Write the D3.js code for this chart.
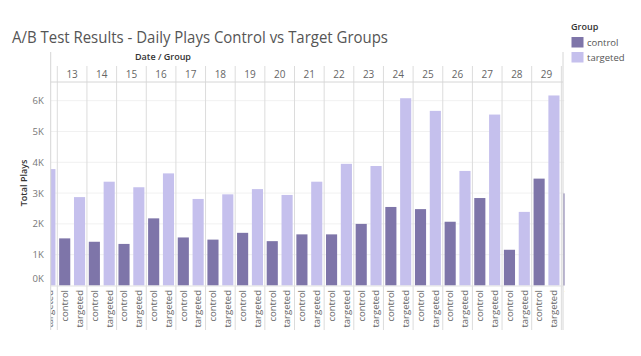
<!DOCTYPE html>
<html>
<head>
<meta charset="utf-8">
<script src="https://cdn.jsdelivr.net/npm/d3@7"></script>
<style>
  html, body { margin: 0; padding: 0; background: #fff; }
  svg { display: block; font-family: "Open Sans", "Lato", sans-serif; }
</style>
</head>
<body>
<svg id="chart" width="641" height="356"></svg>
<script>
// ---- data ----
const days = [12, 13, 14, 15, 16, 17, 18, 19, 20, 21, 22, 23, 24, 25, 26, 27, 28, 29, 30];
const groups = ["control", "targeted"];
const controlPlays  = [1600, 1530, 1420, 1350, 2180, 1560, 1490, 1710, 1440, 1660, 1660, 2000, 2550, 2480, 2070, 2840, 1160, 3470, 2990];
const targetedPlays = [3780, 2870, 3370, 3190, 3640, 2810, 2960, 3130, 2940, 3370, 3950, 3880, 6080, 5670, 3720, 5550, 2390, 6170, 3900];
const yTicks = [0, 1000, 2000, 3000, 4000, 5000, 6000];
const colors = { control: "#7e75a9", targeted: "#c5c0ed" };

// ---- layout ----
const svg = d3.select("#chart");
svg.append("rect").attr("width", 641).attr("height", 356).attr("fill", "#fff");

const paneL = 50.7, paneR = 564.5;
const headTop = 52, dateTop = 66, headBottom = 82;
const y0 = 285.5, labelBottom = 330;
const step = 29.65, firstStart = 27.65;

const x = d3.scaleBand().domain(days)
  .range([firstStart, firstStart + step * days.length]).padding(0);
const x1 = d3.scaleBand().domain(groups).range([0, x.bandwidth()])
  .paddingInner(0.25).paddingOuter(0.125);
const pxPerK = 30.8;
const y = d3.scaleLinear().domain([0, (y0 - headBottom) / pxPerK * 1000]).range([y0, headBottom]);

const rows = days.map((d, i) => ({ day: d, control: controlPlays[i], targeted: targetedPlays[i] }));

// clip
svg.append("defs").append("clipPath").attr("id", "pane")
  .append("rect").attr("x", paneL).attr("y", headTop).attr("width", paneR - paneL).attr("height", labelBottom - headTop + 5);

// title
svg.append("text").attr("x", 12).attr("y", 42.5)
  .attr("font-size", 15.5).attr("fill", "#555")
  .attr("textLength", 376).attr("lengthAdjust", "spacingAndGlyphs")
  .text("A/B Test Results - Daily Plays Control vs Target Groups");

const g = svg.append("g").attr("clip-path", "url(#pane)");

// gridlines
g.selectAll("line.grid").data(yTicks.slice(1)).join("line")
  .attr("x1", paneL).attr("x2", paneR)
  .attr("y1", d => y(d)).attr("y2", d => y(d))
  .attr("stroke", "#f1f1f1").attr("stroke-width", 1);

// day separators
g.selectAll("line.sep").data(days.slice(1)).join("line")
  .attr("x1", d => x(d)).attr("x2", d => x(d))
  .attr("y1", dateTop).attr("y2", labelBottom)
  .attr("stroke", "#dcdcdc").attr("stroke-width", 1);

// bars
const dayG = g.selectAll("g.day").data(rows).join("g")
  .attr("transform", d => `translate(${x(d.day)},0)`);
dayG.selectAll("rect").data(d => groups.map(k => ({ key: k, value: d[k] }))).join("rect")
  .attr("x", d => x1(d.key)).attr("width", x1.bandwidth())
  .attr("y", d => y(d.value)).attr("height", d => y(0) - y(d.value))
  .attr("fill", d => colors[d.key]);

// bottom labels
dayG.selectAll("text").data(d => groups).join("text")
  .attr("transform", k => `translate(${x1(k) + x1.bandwidth() / 2},290) rotate(-90)`)
  .attr("text-anchor", "end").attr("dy", "0.35em")
  .attr("font-size", 9.5).attr("fill", "#666")
  .text(k => k);

// date header labels
g.selectAll("text.date").data(days).join("text")
  .attr("x", d => x(d) + x.bandwidth() / 2).attr("y", 74)
  .attr("text-anchor", "middle").attr("dy", "0.35em")
  .attr("font-size", 10).attr("fill", "#666")
  .text(d => d);

// borders
svg.append("line").attr("x1", paneL).attr("x2", paneL).attr("y1", headTop).attr("y2", labelBottom)
  .attr("stroke", "#d6d6d6");
svg.append("line").attr("x1", paneR - 1.5).attr("x2", paneR - 1.5).attr("y1", headTop).attr("y2", labelBottom)
  .attr("stroke", "#d6d6d6");
svg.append("line").attr("x1", paneL).attr("x2", paneR - 1.5).attr("y1", headBottom).attr("y2", headBottom)
  .attr("stroke", "#d6d6d6");
svg.append("line").attr("x1", paneL).attr("x2", paneR - 1.5).attr("y1", y0 + 0.5).attr("y2", y0 + 0.5)
  .attr("stroke", "#e2e2e2");

// header title
svg.append("text").attr("x", 163).attr("y", 60).attr("text-anchor", "middle")
  .attr("font-size", 9).attr("font-weight", 600).attr("fill", "#333")
  .text("Date / Group");

// y axis
const yAxis = svg.append("g").attr("transform", `translate(${paneL - 5},0)`)
  .call(d3.axisLeft(y).tickValues(yTicks).tickSize(0).tickPadding(2).tickFormat(d => d / 1000 + "K"));
yAxis.select(".domain").remove();
yAxis.selectAll("text").attr("font-size", 9.5).attr("fill", "#777").attr("font-family", "Open Sans, sans-serif");
yAxis.selectAll(".tick").filter(d => d === 0).select("text").attr("dy", "-0.45em");

svg.append("text").attr("transform", "translate(24,183) rotate(-90)")
  .attr("text-anchor", "middle").attr("dy", "0.35em")
  .attr("font-size", 9).attr("font-weight", 600).attr("fill", "#333")
  .text("Total Plays");

// legend
const leg = svg.append("g");
leg.append("text").attr("x", 571).attr("y", 27).attr("dy", "0.35em")
  .attr("font-size", 9).attr("font-weight", 600).attr("fill", "#333").text("Group");
const li = leg.selectAll("g.item").data(groups).join("g")
  .attr("transform", (d, i) => `translate(571.5,${37 + i * 15})`);
li.append("rect").attr("width", 12).attr("height", 10.5).attr("fill", d => colors[d]);
li.append("text").attr("x", 15.5).attr("y", 5.5).attr("dy", "0.35em")
  .attr("font-size", 9.5).attr("fill", "#555").text(d => d);
</script>
</body>
</html>
